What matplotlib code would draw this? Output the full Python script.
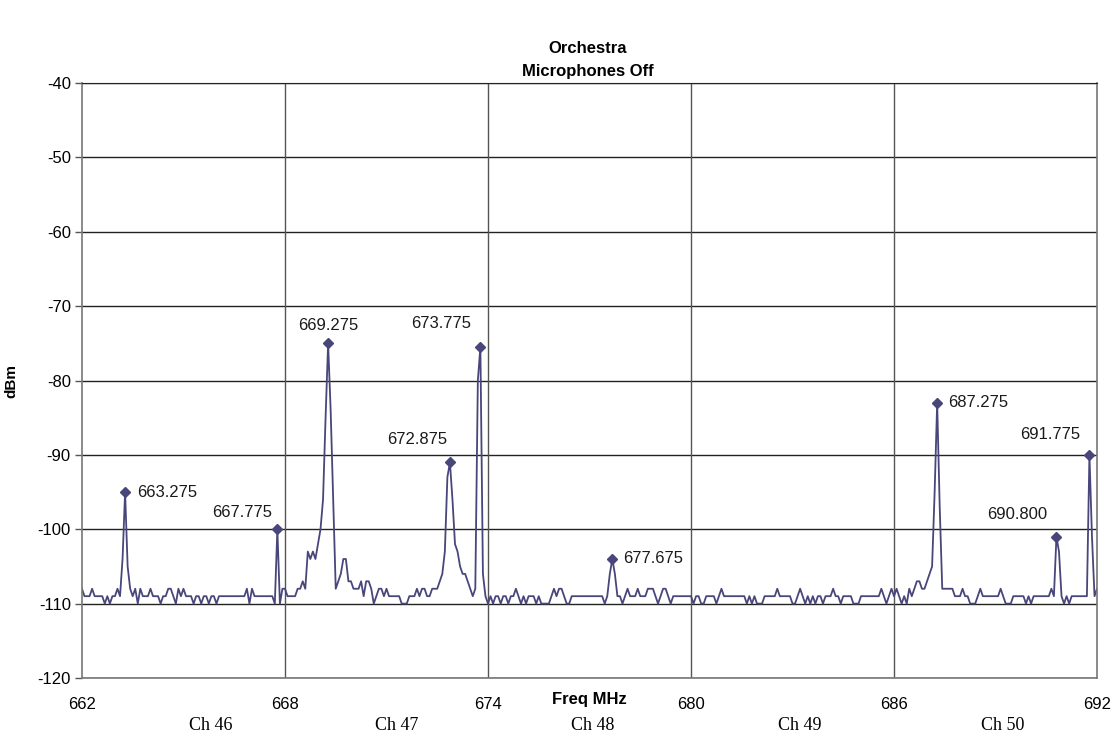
import matplotlib
matplotlib.use("Agg")
import matplotlib.pyplot as plt
import numpy as np

# sweep: 401 points, 662-692 MHz
f_start = 662.0
f_step = 0.075

level_dbm = [
    -108, -109, -109, -109, -108, -109, -109, -109, -109, -110,
    -109, -110, -109, -109, -108, -109, -104, -95, -105, -108,
    -109, -108, -110, -108, -109, -109, -109, -108, -109, -109,
    -109, -110, -109, -109, -108, -108, -109, -110, -108, -109,
    -108, -109, -109, -109, -110, -109, -109, -110, -109, -109,
    -110, -109, -109, -110, -109, -109, -109, -109, -109, -109,
    -109, -109, -109, -109, -109, -108, -110, -108, -109, -109,
    -109, -109, -109, -109, -109, -109, -110, -100, -110, -108,
    -108, -109, -109, -109, -109, -108, -108, -107, -108, -103,
    -104, -103, -104, -102, -100, -96, -85, -75, -84, -96,
    -108, -107, -106, -104, -104, -107, -107, -108, -108, -108,
    -107, -109, -107, -107, -108, -110, -109, -108, -108, -109,
    -108, -109, -109, -109, -109, -109, -110, -110, -110, -109,
    -109, -109, -108, -109, -108, -108, -109, -109, -108, -108,
    -108, -107, -106, -103, -93, -91, -96, -102, -103, -105,
    -106, -106, -107, -108, -109, -108, -80, -75.5, -106, -109,
    -110, -109, -110, -109, -109, -110, -109, -109, -110, -109,
    -109, -108, -109, -110, -109, -110, -109, -109, -109, -110,
    -109, -110, -110, -110, -110, -109, -108, -109, -108, -108,
    -109, -110, -110, -109, -109, -109, -109, -109, -109, -109,
    -109, -109, -109, -109, -109, -109, -110, -109, -106, -104,
    -106, -109, -109, -110, -109, -108, -109, -109, -109, -108,
    -109, -109, -109, -108, -108, -108, -109, -110, -109, -108,
    -108, -109, -110, -109, -109, -109, -109, -109, -109, -109,
    -109, -110, -109, -109, -110, -110, -109, -109, -109, -109,
    -110, -109, -108, -109, -109, -109, -109, -109, -109, -109,
    -109, -109, -110, -109, -110, -109, -110, -110, -110, -109,
    -109, -109, -109, -109, -108, -109, -109, -109, -109, -109,
    -110, -110, -109, -108, -109, -110, -109, -110, -109, -110,
    -109, -109, -110, -109, -109, -109, -108, -109, -109, -110,
    -109, -109, -109, -109, -110, -110, -110, -109, -109, -109,
    -109, -109, -109, -109, -109, -108, -109, -110, -109, -108,
    -109, -108, -109, -110, -109, -110, -108, -109, -108, -107,
    -107, -108, -108, -107, -106, -105, -95, -83, -97, -108,
    -108, -108, -108, -108, -109, -109, -109, -108, -109, -109,
    -110, -110, -110, -109, -108, -109, -109, -109, -109, -109,
    -109, -109, -108, -109, -110, -110, -110, -109, -109, -109,
    -109, -109, -110, -109, -110, -109, -109, -109, -109, -109,
    -109, -109, -108, -109, -101, -103, -109, -110, -109, -110,
    -109, -109, -109, -109, -109, -109, -109, -90, -101, -109,
    -108,
]

peak_labels = ["663.275", "667.775", "669.275", "672.875", "673.775",
               "677.675", "687.275", "690.800", "691.775"]
x_ticks = [662, 668, 674, 680, 686, 692]
y_ticks = [-40, -50, -60, -70, -80, -90, -100, -110, -120]
channels = ["Ch 46", "Ch 47", "Ch 48", "Ch 49", "Ch 50"]

freq = f_start + f_step * np.arange(len(level_dbm))
level = np.array(level_dbm)

plt.rcParams["font.family"] = ["Liberation Sans", "DejaVu Sans"]
line_col = "#48467a"

fig = plt.figure(figsize=(11.15, 7.40), dpi=100)
ax = fig.add_axes([0.0735, 0.0838, 0.9104, 0.804])

ax.plot(freq, level, color=line_col, lw=1.3)

# label offsets (pixels) and alignment per peak
offsets = [(12, 0, "left"), (-5, 17, "right"), (0, 18, "center"),
           (-3, 23, "right"), (-9, 24, "right"), (11, 0, "left"),
           (11, 0, "left"), (-9, 22, "right"), (-9, 20, "right")]
for lab, (dx, dy, ha) in zip(peak_labels, offsets):
    idx = int(round((float(lab) - f_start) / f_step))
    ax.plot(freq[idx], level[idx], marker="D", ms=5.5, color=line_col)
    ax.annotate(lab, (freq[idx], level[idx]), xytext=(dx, dy),
                textcoords="offset pixels", ha=ha, va="center",
                fontsize=12, color="#1a1a1a")

ax.set_xlim(662, 692)
ax.set_ylim(-120, -40)
ax.set_xticks(x_ticks)
ax.set_yticks(y_ticks)
ax.set_xticklabels([str(t) for t in x_ticks], fontsize=12)
ax.set_yticklabels([str(t) for t in y_ticks], fontsize=12)
ax.tick_params(axis="x", length=0, pad=14)
ax.tick_params(axis="y", length=5, width=1, color="#555555", pad=3)

for y in y_ticks:
    ax.axhline(y, color="#222222", lw=1.0, zorder=0)
for x in x_ticks[1:-1]:
    ax.axvline(x, color="#555555", lw=1.0, zorder=0)
for s in ["left", "bottom", "right"]:
    ax.spines[s].set_color("#777777")
    ax.spines[s].set_linewidth(1.2)
ax.spines["top"].set_color("#222222")

ax.set_ylabel("dBm", fontsize=11, fontweight="bold", labelpad=14)
ax.annotate("Freq MHz", (677.0, -120), xytext=(0, -22),
            textcoords="offset pixels", ha="center", va="center",
            fontsize=12, fontweight="bold")

ch_x = [665.8, 671.3, 677.1, 683.2, 689.2]
for cx, ch in zip(ch_x, channels):
    ax.annotate(ch, (cx, -120), xytext=(0, -48), textcoords="offset pixels",
                ha="center", va="center", fontsize=13,
                family=["Liberation Serif", "DejaVu Serif"])

fig.text(0.527, 0.934, "Orchestra", ha="center", va="center",
         fontsize=12, fontweight="bold")
fig.text(0.527, 0.904, "Microphones Off", ha="center", va="center",
         fontsize=12, fontweight="bold")

fig.savefig("out.png", dpi=100)
